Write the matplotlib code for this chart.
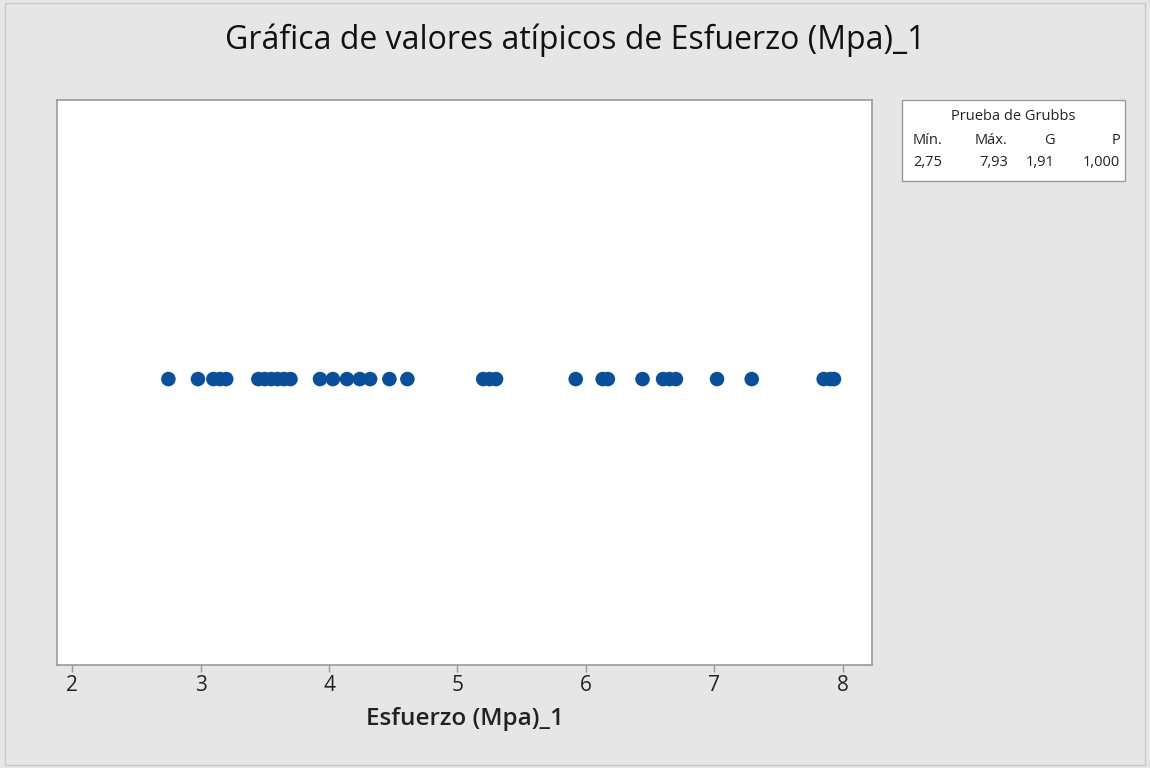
import matplotlib.pyplot as plt
from matplotlib.patches import Rectangle

esfuerzo = [
    2.75, 2.98, 3.10, 3.15, 3.20,
    3.45, 3.50, 3.55, 3.60, 3.65, 3.70,
    3.93, 4.03, 4.14, 4.24, 4.32, 4.47, 4.61,
    5.20, 5.25, 5.30,
    5.92, 6.13, 6.17, 6.44, 6.60, 6.65, 6.70,
    7.02, 7.29, 7.85, 7.90, 7.93,
]
x_ticks = [2, 3, 4, 5, 6, 7, 8]

grubbs_headers = ["Mín.", "Máx.", "G", "P"]
grubbs_values = ["2,75", "7,93", "1,91", "1,000"]

BACKGROUND = "#e6e6e6"
DOT_COLOR = "#0b4f9b"
FONT = "Open Sans"
W, H = 1150, 768

fig = plt.figure(figsize=(11.5, 7.68), dpi=100, facecolor=BACKGROUND)
ax = fig.add_axes([57 / W, 1 - 665 / H, 815 / W, 565 / H])
ax.set_facecolor("white")

ax.scatter(esfuerzo, [0] * len(esfuerzo), s=110, color=DOT_COLOR,
           edgecolors="none", zorder=3)

ax.set_xlim(1.883, 8.226)
ax.set_ylim(-1, 0.976)
ax.set_yticks([])
ax.set_xticks(x_ticks)
ax.set_xticklabels([str(t) for t in x_ticks], fontsize=15, family=FONT,
                   color="#222222")
ax.tick_params(axis="x", length=5, width=1, color="#999999", pad=2)

for spine in ax.spines.values():
    spine.set_color("#9a9a9a")
    spine.set_linewidth(1.2)

ax.set_xlabel("Esfuerzo (Mpa)_1", fontsize=17.5, family=FONT,
              fontweight="semibold", color="#222222", labelpad=8)

fig.text(0.5, 1 - 40 / H, "Gráfica de valores atípicos de Esfuerzo (Mpa)_1",
         ha="center", va="center", fontsize=23, family=FONT, color="#111111")

# Grubbs test box
fig.patches.append(Rectangle((902 / W, 1 - 181 / H), 223 / W, 81 / H,
                             transform=fig.transFigure, facecolor="white",
                             edgecolor="#9a9a9a", linewidth=1))
fig.text(1013 / W, 1 - 117 / H, "Prueba de Grubbs",
         ha="center", va="center", fontsize=10.5, family=FONT, color="#222222")

col_x = [913, 1008, 1055, 1120]
col_ha = ["left", "right", "right", "right"]
for head, val, x, ha in zip(grubbs_headers, grubbs_values, col_x, col_ha):
    fig.text(x / W, 1 - 141 / H, head, ha=ha, va="center", fontsize=10.5,
             family=FONT, color="#222222")
    fig.text(x / W, 1 - 162 / H, val, ha=ha, va="center", fontsize=10.5,
             family=FONT, color="#222222")

fig.patches.append(Rectangle((0.004, 0.004), 0.992, 0.992,
                             transform=fig.transFigure, facecolor="none",
                             edgecolor="#c8c8c8", linewidth=1))

fig.savefig("out.png", dpi=100, facecolor=BACKGROUND)
